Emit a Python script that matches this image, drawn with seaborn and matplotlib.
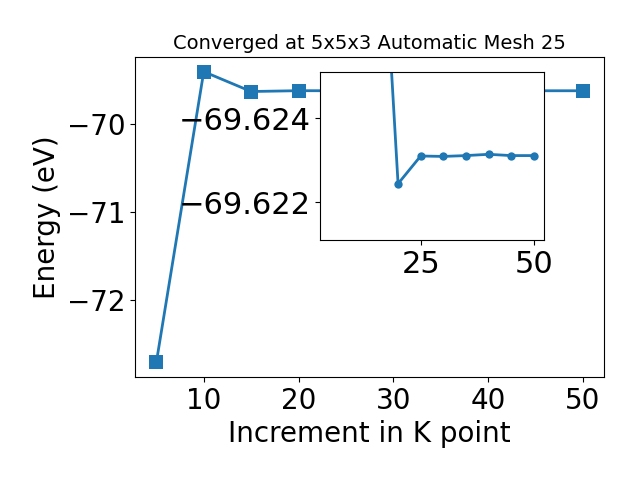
import matplotlib
matplotlib.use("Agg")
import matplotlib.pyplot as plt
import seaborn as sns
import pandas as pd

# ---------- DATA ----------
k_points = [5, 10, 15, 20, 25, 30, 35, 40, 45, 50]
energy_ev = [-72.709, -69.406, -69.6317, -69.62244, -69.62310,
             -69.62309, -69.62311, -69.62314, -69.62311, -69.62311]
inset_start = 2  # inset shows the curve from k = 15 onwards
title_text = "Converged at 5x5x3 Automatic Mesh 25"
x_label = "Increment in K point"
y_label = "Energy (eV)"
inset_xticks = [25, 50]
inset_yticks = [-69.624, -69.622]
# --------------------------

plt.rcParams["font.size"] = 20
plt.rcParams["font.family"] = ["DejaVu Sans"]

df = pd.DataFrame({"k": k_points, "energy": energy_ev})
df_inset = df.iloc[inset_start:]

fig = plt.figure(figsize=(6.4, 4.8), dpi=100)
ax = fig.add_axes([0.211, 0.215, 0.733, 0.666])

sns.lineplot(data=df, x="k", y="energy", ax=ax, marker="s", markersize=10,
             markeredgewidth=0, linewidth=2, color="C0")
ax.set_title(title_text, fontsize=14)
ax.set_xlabel(x_label, fontsize=20)
ax.set_ylabel(y_label, fontsize=20)
ax.set_xticks([10, 20, 30, 40, 50])
ax.set_yticks([-72, -71, -70])
ax.tick_params(labelsize=20)

# inset zoom on the converged region
axin = fig.add_axes([0.5, 0.5, 0.35, 0.35])
sns.lineplot(data=df_inset, x="k", y="energy", ax=axin, marker="o",
             markersize=6, markeredgewidth=0, linewidth=2, color="C0")
axin.set_xlim(ax.get_xlim())
axin.set_ylim(-69.6211, -69.6251)
axin.set_xticks(inset_xticks)
axin.set_yticks(inset_yticks)
axin.ticklabel_format(axis="y", useOffset=False)
axin.set_xlabel("")
axin.set_ylabel("")
axin.tick_params(labelsize=22)

fig.savefig("out.png", dpi=100)
